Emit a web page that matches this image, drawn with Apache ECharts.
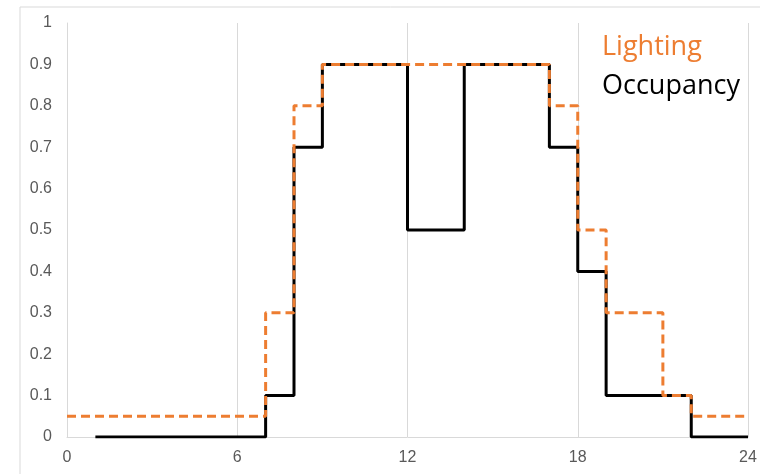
<!DOCTYPE html>
<html>
<head>
<meta charset="utf-8">
<script src="https://cdn.jsdelivr.net/npm/echarts@6/dist/echarts.min.js"></script>
<style>
html,body{margin:0;padding:0;background:#fff;}
#chart{width:760px;height:474px;}
</style>
</head>
<body>
<div id="chart"></div>
<script>
// Hour at which each step starts, and the value held from there
const occupancyHours = [1, 7, 8, 9, 12, 14, 17, 18, 19, 22, 24];
const occupancyValues = [0, 0.1, 0.7, 0.9, 0.5, 0.9, 0.7, 0.4, 0.1, 0, 0];
const lightingHours = [0, 7, 8, 9, 17, 18, 19, 21, 22, 24];
const lightingValues = [0.05, 0.3, 0.8, 0.9, 0.8, 0.5, 0.3, 0.1, 0.05, 0.05];
const xTicks = [0, 6, 12, 18, 24];
const yTicks = [0, 0.1, 0.2, 0.3, 0.4, 0.5, 0.6, 0.7, 0.8, 0.9, 1];
const seriesNames = ['Lighting', 'Occupancy'];

const pairs = (xs, ys) => xs.map((x, i) => [x, ys[i]]);

const chart = echarts.init(document.getElementById('chart'), null, {renderer: 'canvas'});
chart.setOption({
  animation: false,
  backgroundColor: '#ffffff',
  graphic: [{
    type: 'rect',
    shape: {x: 20, y: 7, width: 900, height: 700},
    style: {fill: 'none', stroke: '#D9D9D9', lineWidth: 1},
    silent: true
  }],
  grid: {left: 67, right: 12, top: 23, bottom: 37, containLabel: false},
  legend: {
    data: [
      {name: seriesNames[0], textStyle: {color: '#ED7D31'}},
      {name: seriesNames[1], textStyle: {color: '#000000'}}
    ],
    orient: 'vertical',
    left: 592,
    top: 29,
    itemWidth: 0,
    itemHeight: 0,
    itemGap: 12,
    icon: 'rect',
    textStyle: {fontFamily: 'Open Sans', fontSize: 27}
  },
  xAxis: {
    type: 'value',
    min: xTicks[0],
    max: xTicks[xTicks.length - 1],
    interval: 6,
    axisLine: {show: true, lineStyle: {color: '#D9D9D9', width: 1}},
    axisTick: {show: false},
    axisLabel: {color: '#595959', fontFamily: 'Liberation Sans', fontSize: 16, margin: 13,
      formatter: v => xTicks.includes(v) ? String(v) : ''},
    splitLine: {show: true, lineStyle: {color: '#D9D9D9', width: 1}}
  },
  yAxis: {
    type: 'value',
    min: 0,
    max: 1,
    interval: 0.1,
    axisLine: {show: true, lineStyle: {color: '#D9D9D9', width: 1}},
    axisTick: {show: false},
    axisLabel: {color: '#595959', fontFamily: 'Liberation Sans', fontSize: 16, margin: 15,
      formatter: v => {
        const t = yTicks.find(k => Math.abs(k - v) < 1e-6);
        return t === undefined ? '' : String(t);
      }},
    splitLine: {show: false}
  },
  series: [
    {
      name: seriesNames[1],
      type: 'line',
      step: 'end',
      symbol: 'none',
      data: pairs(occupancyHours, occupancyValues),
      lineStyle: {color: '#000000', width: 3},
      itemStyle: {color: '#000000'},
      z: 2
    },
    {
      name: seriesNames[0],
      type: 'line',
      step: 'end',
      symbol: 'none',
      data: pairs(lightingHours, lightingValues),
      lineStyle: {color: '#ED7D31', width: 3, type: [9, 5]},
      itemStyle: {color: '#ED7D31'},
      z: 3
    }
  ]
});
</script>
</body>
</html>
